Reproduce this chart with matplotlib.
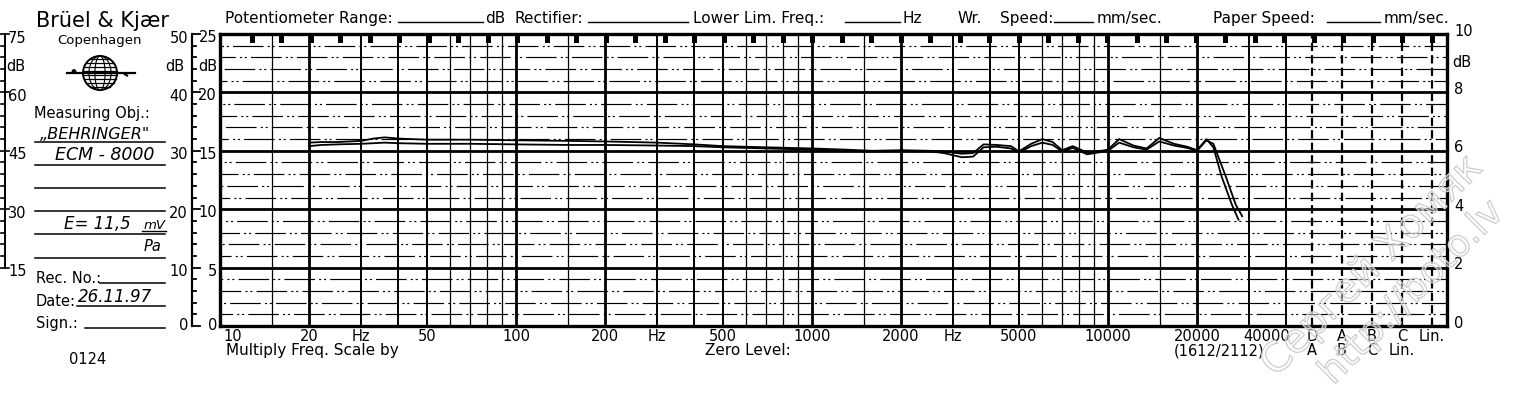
"""
Brüel & Kjær level recorder sheet (paper 1612/2112)
Frequency response of a Behringer ECM-8000, redrawn with matplotlib.
"""

import numpy as np
import matplotlib
matplotlib.use("Agg")
import matplotlib.pyplot as plt
import matplotlib.patheffects as pe
from matplotlib import transforms
from matplotlib.lines import Line2D
from matplotlib.patches import Rectangle, Circle, Ellipse
from matplotlib.ticker import NullLocator

W, H = 1515, 396                 # output size, px (dpi 100)
FRAME_L, FRAME_R = 220, 1447     # recording area, px
FRAME_T, FRAME_B = 34, 326
DECADE_PX = 296                  # width of one frequency decade, px

# ── pen traces (Hz, dB on the 0-25 scale) ──
FREQ_HZ = [20, 22, 25, 30, 33, 36, 40, 50, 70, 100,
           150, 200, 300, 400, 500, 700, 1000, 1300, 1600, 2000,
           2500, 2800, 3200, 3500, 3800, 4200, 4700, 5000, 5500, 6000,
           6500, 7000, 7600, 8500, 9500, 10000, 10900, 12200, 13500, 14900,
           16700, 18500, 20000, 21500, 22700]
LEVEL_A = [15.7, 15.75, 15.75, 15.85, 16.05, 16.15, 16.05, 15.95, 15.95, 15.9,
           15.85, 15.8, 15.7, 15.55, 15.4, 15.3, 15.2, 15.1, 15.0, 15.05,
           15.0, 14.95, 14.75, 14.8, 15.55, 15.5, 15.4, 14.95, 15.6, 16.0,
           15.75, 15.05, 15.4, 14.85, 15.0, 15.1, 16.0, 15.45, 15.2, 16.1,
           15.6, 15.35, 15.05, 16.0, 15.3]
LEVEL_B = [15.4, 15.5, 15.55, 15.6, 15.65, 15.7, 15.65, 15.6, 15.6, 15.55,
           15.5, 15.5, 15.45, 15.4, 15.3, 15.2, 15.1, 15.0, 14.95, 15.0,
           14.95, 14.8, 14.45, 14.5, 15.3, 15.35, 15.2, 14.85, 15.4, 15.7,
           15.5, 14.95, 15.25, 14.7, 14.9, 15.0, 15.7, 15.3, 15.1, 15.8,
           15.45, 15.25, 15.0, 15.9, 15.6]
TAIL_FREQ_A = [24200, 26200, 27600]
TAIL_A      = [12.8, 10.4, 9.1]
TAIL_FREQ_B = [25000, 27000, 28400]
TAIL_B      = [12.8, 10.4, 9.4]

# ── axes, scales and labels ──
FREQ_LABELS = [10, 20, 50, 100, 200, 500, 1000, 2000, 5000, 10000, 20000, 40000]
HZ_AT       = [30, 300, 3000]
GRID_DECADES = [10, 100, 1000, 10000]
GRID_MULT    = [1, 1.5, 2, 3, 4, 5, 6, 7, 8, 9]
WEIGHT_ROW1 = ["D", "A", "B", "C", "Lin."]
WEIGHT_ROW2 = ["A", "B", "C", "Lin."]
WEIGHT_COL_PX = [1312, 1342, 1372, 1402, 1432]
MAIN_SCALE  = [0, 5, 10, 15, 20, 25]
MID_SCALE   = [0, 10, 20, 30, 40, 50]
FAR_SCALE   = [15, 30, 45, 60, 75]
RIGHT_SCALE = [0, 2, 4, 6, 8, 10]

HEADER_WORDS = ["Potentiometer Range:", "dB", "Rectifier:", "Lower Lim. Freq.:",
                "Hz", "Wr.", "Speed:", "mm/sec.", "Paper Speed:", "mm/sec."]
HEADER_X     = [225, 485, 514, 693, 903, 958, 1000, 1097, 1213, 1384]
HEADER_BLANKS = [(398, 483), (588, 688), (845, 900), (1054, 1093), (1327, 1380)]

MARK_START_PX, MARK_STEP_PX, N_MARKS = 252, 29.5, 41


def fx(x):
    return x / W


def fy(y):
    return 1 - y / H


def rule(fig, x0, x1, y, lw=1.1):
    """Horizontal rule in figure pixels."""
    fig.add_artist(Line2D([fx(x0), fx(x1)], [fy(y), fy(y)],
                          transform=fig.transFigure, color='k', lw=lw))


def dibujar_logo(fig):
    """Small B&K globe."""
    lg = fig.add_axes([fx(64), fy(95), 74 / W, 43 / H])
    lg.set_xlim(0, 74)
    lg.set_ylim(43, 0)
    lg.axis('off')
    cx, cy, r = 36, 21, 17
    lg.add_patch(Circle((cx, cy), r, fill=False, lw=1.3, color='k'))
    for dy in np.linspace(-14, 14, 8):
        half = np.sqrt(r ** 2 - dy ** 2)
        lg.plot([cx - half, cx + half], [cy + dy, cy + dy], 'k', lw=0.9)
    for w in [0.3, 0.65, 1.0]:
        lg.add_patch(Ellipse((cx, cy), 2 * r * w, 2 * r, fill=False, lw=0.8, color='k'))
    lg.plot([3, 71], [cy, cy], 'k', lw=1.6)
    lg.add_patch(Circle((10, cy - 1.5), 1.7, color='k'))
    lg.plot([60, 63], [cy + 0.5, cy + 2.5], 'k', lw=1.6)


def panel_izquierdo(fig):
    fig.text(fx(36), fy(27), "Brüel & Kjær", fontsize=15, va='baseline')
    fig.text(fx(100), fy(44), "Copenhagen", fontsize=9.5, va='baseline', ha='center')
    dibujar_logo(fig)
    fig.text(fx(34), fy(118), "Measuring Obj.:", fontsize=10.5, va='baseline')

    hand = dict(fontstyle='italic', va='baseline')
    fig.text(fx(40), fy(139), "„BEHRINGER\"", fontsize=11.5, **hand)
    fig.text(fx(55), fy(160), "ECM - 8000", fontsize=12.5, **hand)
    fig.text(fx(64), fy(229), "E= 11,5", fontsize=12, **hand)
    fig.text(fx(144), fy(229), "mV", fontsize=9.5, **hand)
    fig.text(fx(144), fy(251), "Pa", fontsize=10.5, **hand)
    fig.text(fx(78), fy(302), "26.11.97", fontsize=12, **hand)

    for y in [142, 165, 188, 211, 234, 258]:
        rule(fig, 35, 165, y)
    rule(fig, 142, 166, 231, lw=1.0)

    fig.text(fx(36), fy(283), "Rec. No.:", fontsize=10.5, va='baseline')
    rule(fig, 100, 165, 283)
    fig.text(fx(36), fy(306), "Date:", fontsize=10.5, va='baseline')
    rule(fig, 77, 165, 306)
    fig.text(fx(36), fy(328), "Sign.:", fontsize=10.5, va='baseline')
    rule(fig, 85, 165, 328)
    fig.text(fx(88), fy(364), "0124", fontsize=10.5, va='baseline', ha='center')


def escalas(fig, ax):
    """Side scales: 0-75 dB, 0-50 dB, 0-25 dB (main) and 0-10 dB (right)."""
    tr = transforms.blended_transform_factory(fig.transFigure, ax.transData)
    kw = dict(transform=tr, color='k', clip_on=False)

    # far left 0-75 dB (1 dB on the paper = 3 units)
    fig.add_artist(Line2D([fx(5), fx(5)], [5, 25], lw=1.4, **kw))
    for lvl in range(5, 26):
        x0 = 0 if lvl % 5 == 0 else 1
        x1 = 9 if lvl % 5 == 0 else 5
        fig.add_artist(Line2D([fx(x0), fx(x1)], [lvl, lvl], lw=1.2, **kw))
    for v in FAR_SCALE:
        fig.text(fx(8), v / 3 - 0.35, str(v), fontsize=10.5, va='center',
                 transform=tr)
    fig.text(fx(6), 22.2, "dB", fontsize=10.5, va='center', transform=tr)

    # middle 0-50 dB (1 dB on the paper = 2 units)
    fig.add_artist(Line2D([fx(192), fx(192)], [0, 25], lw=1.6, **kw))
    for lvl in range(0, 26):
        length = 8 if lvl % 5 == 0 else 4
        fig.add_artist(Line2D([fx(192), fx(192 + length)], [lvl, lvl], lw=1.3, **kw))
    for v in MID_SCALE:
        off = 0.0 if v == 0 else -0.35
        fig.text(fx(188), v / 2 + off, str(v), fontsize=10.5, va='center',
                 ha='right', transform=tr)
    fig.text(fx(184), 22.2, "dB", fontsize=10.5, va='center', ha='right', transform=tr)

    # main 0-25 dB
    for v in MAIN_SCALE:
        off = 0.0 if v == 0 else -0.3
        fig.text(fx(217), v + off, str(v), fontsize=10.5, va='center',
                 ha='right', transform=tr)
    fig.text(fx(217), 22.2, "dB", fontsize=10.5, va='center', ha='right', transform=tr)

    # right 0-10 dB
    for v in RIGHT_SCALE:
        fig.text(fx(1454), v * 2.5 + 0.25, str(v), fontsize=10.5, va='center',
                 transform=tr)
    fig.text(fx(1452), 22.6, "dB", fontsize=10.5, va='center', transform=tr)


def main():
    plt.rcParams['font.family'] = ['DejaVu Sans']
    plt.rcParams['lines.scale_dashes'] = False

    fig = plt.figure(figsize=(W / 100, H / 100), dpi=100)
    fig.patch.set_facecolor('white')

    ax = fig.add_axes([fx(FRAME_L), fy(FRAME_B),
                       (FRAME_R - FRAME_L) / W, (FRAME_B - FRAME_T) / H])
    x_max = 10 * 10 ** ((FRAME_R - FRAME_L) / DECADE_PX)
    ax.set_xscale('log')
    ax.set_xlim(10, x_max)
    ax.set_ylim(0, 25)
    for axis in (ax.xaxis, ax.yaxis):
        axis.set_major_locator(NullLocator())
        axis.set_minor_locator(NullLocator())
    for s in ax.spines.values():
        s.set_linewidth(2.4)

    # ── grid of the recording paper ──
    for decade in GRID_DECADES:
        for m in GRID_MULT:
            f = decade * m
            if f <= 10 or f > 40000:
                continue
            if m in (1, 2):
                lw = 2.0
            elif m in (3, 4, 5):
                lw = 1.4
            else:
                lw = 0.9
            ax.axvline(f, color='k', lw=lw, zorder=1)

    # 1 dB lines are printed broken; shift the dash phase line by line
    for lvl in range(1, 25):
        if lvl % 5 == 0:
            ax.axhline(lvl, color='k', lw=2.0, zorder=1)
        else:
            fase = (lvl * 13) % 32
            ax.axhline(lvl, color='k', lw=0.85, zorder=1,
                       linestyle=(fase, (22, 3, 1.5, 2, 1.5, 3)))

    # weighting-network columns
    col_frac = [(p - FRAME_L) / (FRAME_R - FRAME_L) for p in WEIGHT_COL_PX]
    for c in col_frac:
        ax.plot([c, c], [0, 1], transform=ax.transAxes, color='k', lw=1.6,
                linestyle=(0, (6, 3)), zorder=1)

    # timing marks under the top edge
    mw = 5 / (FRAME_R - FRAME_L)
    mh = 9 / (FRAME_B - FRAME_T)
    for i in range(N_MARKS):
        xm = (MARK_START_PX + i * MARK_STEP_PX - FRAME_L) / (FRAME_R - FRAME_L)
        ax.add_patch(Rectangle((xm - mw / 2, 1 - mh), mw, mh, transform=ax.transAxes,
                               color='k', lw=0, zorder=2))

    # ── pen traces ──
    ax.plot(FREQ_HZ + TAIL_FREQ_A, LEVEL_A + TAIL_A, color='k', lw=1.3, zorder=3)
    ax.plot(FREQ_HZ + TAIL_FREQ_B, LEVEL_B + TAIL_B, color='k', lw=1.3, zorder=3)

    # ── frequency labels ──
    tx = ax.get_xaxis_transform()
    row1 = -15 / (FRAME_B - FRAME_T)
    row2 = -29 / (FRAME_B - FRAME_T)
    for f in FREQ_LABELS:
        if f == 10:
            t = transforms.offset_copy(tx, fig, x=3, units='dots')
            ax.text(f, row1, str(f), ha='left', va='baseline', fontsize=10.5, transform=t)
        elif f == 40000:
            t = transforms.offset_copy(tx, fig, x=4, units='dots')
            ax.text(f, row1, str(f), ha='right', va='baseline', fontsize=10.5, transform=t)
        else:
            ax.text(f, row1, str(f), ha='center', va='baseline', fontsize=10.5, transform=tx)
    for f in HZ_AT:
        ax.text(f, row1, "Hz", ha='center', va='baseline', fontsize=10.5, transform=tx)
    for lab, c in zip(WEIGHT_ROW1, col_frac):
        ax.text(c, row1, lab, ha='center', va='baseline', fontsize=10.5,
                transform=ax.transAxes)
    for lab, c in zip(WEIGHT_ROW2, col_frac):
        ax.text(c, row2, lab, ha='center', va='baseline', fontsize=10.5,
                transform=ax.transAxes)

    fig.text(fx(226), fy(355), "Multiply Freq. Scale by", fontsize=11, va='baseline')
    fig.text(fx(705), fy(355), "Zero Level:", fontsize=11, va='baseline')
    fig.text(fx(1219), fy(355), "(1612/2112)", fontsize=10.5, va='baseline', ha='center')

    # ── header ──
    for word, x in zip(HEADER_WORDS, HEADER_X):
        fig.text(fx(x), fy(23), word, fontsize=11, va='baseline')
    for x0, x1 in HEADER_BLANKS:
        rule(fig, x0, x1, 22, lw=1.0)

    panel_izquierdo(fig)
    escalas(fig, ax)

    # watermark
    wm = dict(rotation=45, ha='center', va='center', color=(1, 1, 1, 0.45),
              zorder=10,
              path_effects=[pe.Stroke(linewidth=0.9, foreground='#cdcdcd')])
    fig.text(fx(1372), fy(266), "Сергей Хомяк", fontsize=29, **wm)
    fig.text(fx(1412), fy(293), "http://boto.lv", fontsize=27, **wm)

    fig.savefig("out.png", dpi=100, facecolor='white')
    plt.close(fig)


if __name__ == "__main__":
    main()
